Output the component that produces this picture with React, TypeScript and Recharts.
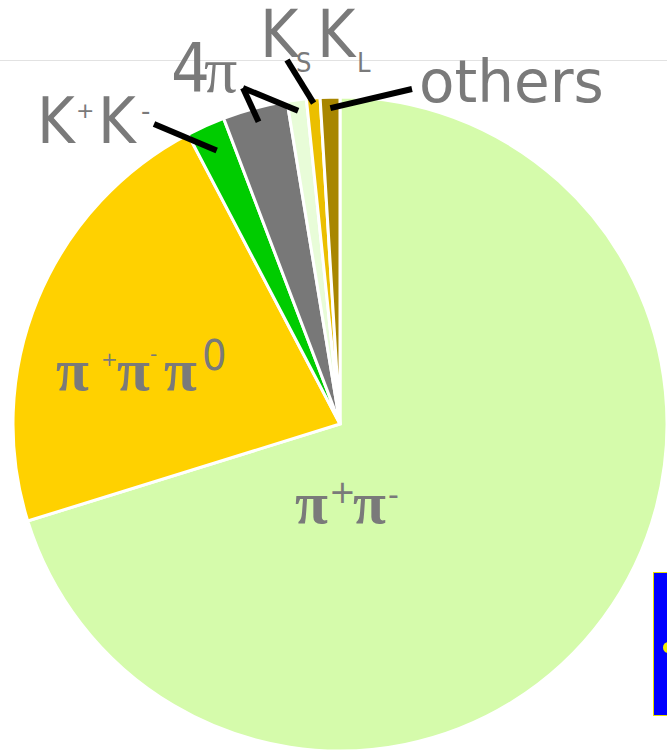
import { PieChart, Pie, Cell } from "recharts";

const MODES = ["π⁺π⁻", "π⁺π⁻π⁰", "K⁺K⁻", "2π⁺2π⁻", "π⁺π⁻2π⁰", "KSKL", "others"];
const SHARES = [70.2, 22.1, 1.9, 3.2, 0.95, 0.67, 0.97];
const COLORS = ["#d5fbab", "#ffd100", "#00cc00", "#787878", "#e8fcd8", "#ebbf00", "#a88600"];

const DATA = MODES.map((name, i) => ({ name, value: SHARES[i] }));

const GREY = "#7a7a7a";
const NARROW = "'Liberation Sans Narrow', 'DejaVu Sans Condensed', sans-serif";
const WIDE = "'DejaVu Sans', sans-serif";
const SERIF = "'Liberation Serif', 'DejaVu Serif', serif";
const RAD = Math.PI / 180;

function Leader({ from, to }: { from: { x: number; y: number }; to: { x: number; y: number } }) {
  return <line x1={from.x} y1={from.y} x2={to.x} y2={to.y} stroke="#000" strokeWidth={6} />;
}

function renderLabel(p: any) {
  const { cx, cy, midAngle, index } = p;
  const at = (r: number) => ({
    x: cx + r * Math.cos(-midAngle * RAD),
    y: cy + r * Math.sin(-midAngle * RAD),
  });
  const fourPi = { x: cx - 97, y: cy - 336 };

  switch (index) {
    case 0: {
      const b = cy + 99;
      return (
        <text fill={GREY}>
          <tspan x={cx - 45} y={b} fontFamily={SERIF} fontWeight="bold" fontSize={60}>π</tspan>
          <tspan x={cx - 11} y={cy + 79} fontFamily={WIDE} fontSize={32}>+</tspan>
          <tspan x={cx + 13} y={b} fontFamily={SERIF} fontWeight="bold" fontSize={60}>π</tspan>
          <tspan x={cx + 48} y={cy + 81} fontFamily={WIDE} fontSize={30}>-</tspan>
        </text>
      );
    }
    case 1: {
      const b = cy - 34;
      return (
        <text fill={GREY}>
          <tspan x={56} y={b} fontFamily={SERIF} fontWeight="bold" fontSize={60}>π</tspan>
          <tspan x={101} y={cy - 58} fontFamily={WIDE} fontSize={20}>+</tspan>
          <tspan x={117} y={b} fontFamily={SERIF} fontWeight="bold" fontSize={60}>π</tspan>
          <tspan x={150} y={cy - 63} fontFamily={WIDE} fontSize={20}>-</tspan>
          <tspan x={164} y={b} fontFamily={SERIF} fontWeight="bold" fontSize={60}>π</tspan>
          <tspan x={202} y={cy - 54} fontFamily={NARROW} fontSize={43}>0</tspan>
        </text>
      );
    }
    case 2: {
      const b = cy - 281;
      return (
        <g>
          <Leader from={at(300)} to={{ x: cx - 186, y: cy - 300 }} />
          <text fill={GREY} fontFamily={NARROW}>
            <tspan x={37} y={b} fontSize={64}>K</tspan>
            <tspan x={76} y={cy - 306} fontFamily={WIDE} fontSize={22}>+</tspan>
            <tspan x={98} y={b} fontSize={64}>K</tspan>
            <tspan x={141} y={cy - 304} fontFamily={WIDE} fontSize={26}>-</tspan>
          </text>
        </g>
      );
    }
    case 3:
      return (
        <g>
          <Leader from={at(313)} to={fourPi} />
          <text fill={GREY} y={cy - 332}>
            <tspan x={171} fontFamily={NARROW} fontSize={68}>4</tspan>
            <tspan x={204} fontFamily={SERIF} fontSize={66}>π</tspan>
          </text>
        </g>
      );
    case 4:
      return <Leader from={at(316)} to={fourPi} />;
    case 5: {
      const b = cy - 367;
      const s = cy - 352;
      return (
        <g>
          <Leader from={at(322)} to={{ x: cx - 53, y: cy - 364 }} />
          <text fill={GREY} fontFamily={NARROW}>
            <tspan x={260} y={b} fontSize={65}>K</tspan>
            <tspan x={296} y={s} fontSize={27}>S</tspan>
            <tspan x={317} y={b} fontSize={65}>K</tspan>
            <tspan x={357} y={s} fontSize={27}>L</tspan>
          </text>
        </g>
      );
    }
    case 6:
      return (
        <g>
          <Leader from={at(316)} to={{ x: cx + 72, y: cy - 335 }} />
          <text x={419} y={cy - 322} fill={GREY} fontFamily={WIDE} fontSize={58}>others</text>
        </g>
      );
    default:
      return null;
  }
}

export default function App() {
  return (
    <div style={{ position: "fixed", left: 0, top: 0, width: 667, height: 750, overflow: "hidden", background: "#fff" }}>
      <div style={{ position: "absolute", left: 0, top: 60, width: 667, height: 1, background: "#e2e2e2" }} />
      <div style={{ position: "absolute", left: 0, top: 0 }}>
        <PieChart width={667} height={752} margin={{ top: 0, right: 0, bottom: 0, left: 0 }}>
          <Pie
            data={DATA}
            dataKey="value"
            nameKey="name"
            cx={340}
            cy={424}
            outerRadius={327}
            startAngle={90}
            endAngle={-270}
            stroke="#fff"
            strokeWidth={3}
            label={renderLabel}
            labelLine={false}
            isAnimationActive={false}
          >
            {DATA.map((d, i) => (
              <Cell key={d.name} fill={COLORS[i]} />
            ))}
          </Pie>
        </PieChart>
      </div>
      <div style={{ position: "absolute", left: 653, top: 572, width: 20, height: 142, background: "#0000ff", border: "1px solid #e8e000", overflow: "hidden" }}>
        <div style={{ position: "absolute", left: 9, top: 69, width: 11, height: 11, borderRadius: 6, background: "#f4ee00" }} />
      </div>
    </div>
  );
}
